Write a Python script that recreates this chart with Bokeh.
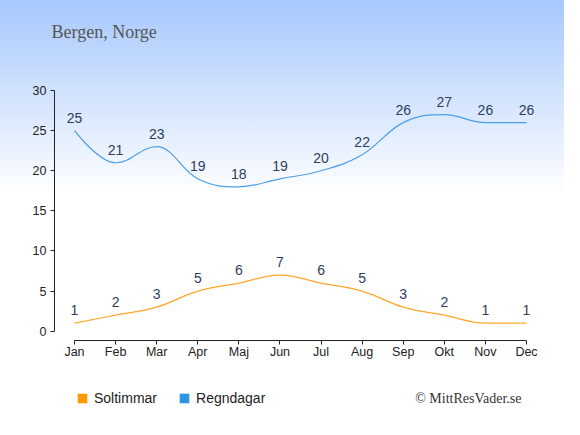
from bokeh.plotting import figure
from bokeh.models import Range1d, FixedTicker, Label, Legend, LegendItem, ColumnDataSource
from bokeh.core.properties import value
from bokeh.embed import file_html
from bokeh.resources import INLINE

# ---- data ----
months = ["Jan", "Feb", "Mar", "Apr", "Maj", "Jun", "Jul", "Aug", "Sep", "Okt", "Nov", "Dec"]
sun_hours = [1, 2, 3, 5, 6, 7, 6, 5, 3, 2, 1, 1]
rain_days = [25, 21, 23, 19, 18, 19, 20, 22, 26, 27, 26, 26]
y_ticks = [0, 5, 10, 15, 20, 25, 30]
series_names = ["Soltimmar", "Regndagar"]
title_text = "Bergen, Norge"
credit_text = "© MittResVader.se"

# ---- styles ----
SUN_LINE = "#ffa726"
RAIN_LINE = "#4b9fea"
SUN_BOX = "#ff9900"
RAIN_BOX = "#2f93e8"
LABEL_COLOR = "#2d3e5e"
AXIS_COLOR = "#222222"

xs = list(range(len(months)))
NAN = float("nan")


def spline_segments(ys, smoothing=1.5):
    """Bezier control points for a smooth line through the points (rendering only)."""
    n = len(ys)
    left = [None] * n
    right = [None] * n
    for i in range(n):
        x, y = xs[i], ys[i]
        if 0 < i < n - 1:
            d = smoothing + 1
            lx = (smoothing * x + xs[i - 1]) / d
            ly = (smoothing * y + ys[i - 1]) / d
            rx = (smoothing * x + xs[i + 1]) / d
            ry = (smoothing * y + ys[i + 1]) / d
            corr = (ry - ly) * (rx - x) / (rx - lx) + y - ry
            ly += corr
            ry += corr
            if ly > ys[i - 1] and ly > y:
                ly = max(ys[i - 1], y); ry = 2 * y - ly
            elif ly < ys[i - 1] and ly < y:
                ly = min(ys[i - 1], y); ry = 2 * y - ly
            if ry > ys[i + 1] and ry > y:
                ry = max(ys[i + 1], y); ly = 2 * y - ry
            elif ry < ys[i + 1] and ry < y:
                ry = min(ys[i + 1], y); ly = 2 * y - ry
            left[i] = (lx, ly)
            right[i] = (rx, ry)
        else:
            left[i] = right[i] = (x, y)
    seg = dict(x0=[], y0=[], x1=[], y1=[], cx0=[], cy0=[], cx1=[], cy1=[])
    for i in range(n - 1):
        seg["x0"].append(xs[i]); seg["y0"].append(ys[i])
        seg["x1"].append(xs[i + 1]); seg["y1"].append(ys[i + 1])
        seg["cx0"].append(right[i][0]); seg["cy0"].append(right[i][1])
        seg["cx1"].append(left[i + 1][0]); seg["cy1"].append(left[i + 1][1])
    return seg


p = figure(
    frame_width=564, frame_height=419,
    min_border_left=0, min_border_right=0, min_border_top=0, min_border_bottom=0,
    x_range=Range1d(-1.801, 11.925), y_range=Range1d(-11.01, 41.23),
    output_backend="svg", toolbar_location=None,
)
p.styles = {"background": "linear-gradient(to bottom, #a6c8fd 0px, #ffffff 195px)"}
p.background_fill_alpha = 0
p.border_fill_alpha = 0
p.outline_line_color = None
p.xgrid.visible = False
p.ygrid.visible = False

for ax in (p.xaxis[0], p.yaxis[0]):
    ax.axis_line_color = AXIS_COLOR
    ax.major_tick_line_color = AXIS_COLOR
    ax.major_tick_out = 4
    ax.major_tick_in = 0
    ax.minor_tick_line_color = None
    ax.major_label_text_font = "Liberation Sans"
    ax.major_label_text_font_size = "12.5px"
    ax.major_label_text_color = "#222222"

p.xaxis.fixed_location = -1.16
p.xaxis.bounds = (0, len(months) - 1)
p.xaxis.ticker = FixedTicker(ticks=xs)
p.xaxis.major_label_overrides = {i: m for i, m in enumerate(months)}
p.xaxis.major_label_standoff = 1
p.yaxis.fixed_location = -0.487
p.yaxis.bounds = (y_ticks[0], y_ticks[-1])
p.yaxis.ticker = FixedTicker(ticks=y_ticks)
p.yaxis.major_label_standoff = 4

# smooth lines
p.bezier(source=spline_segments(rain_days), x0="x0", y0="y0", x1="x1", y1="y1",
         cx0="cx0", cy0="cy0", cx1="cx1", cy1="cy1", line_color=RAIN_LINE, line_width=1.2)
p.bezier(source=spline_segments(sun_hours), x0="x0", y0="y0", x1="x1", y1="y1",
         cx0="cx0", cy0="cy0", cx1="cx1", cy1="cy1", line_color=SUN_LINE, line_width=1.2)

# value labels
for ys in (sun_hours, rain_days):
    p.text(x=xs, y=ys, text=[str(v) for v in ys], text_align="center", text_baseline="middle",
           y_offset=-13, text_font=value("Liberation Sans"), text_font_size="14px",
           text_color=LABEL_COLOR)

# legend swatches (renderers with no drawable geometry, only used by the legend)
empty = dict(left=[NAN], right=[NAN], top=[NAN], bottom=[NAN])
q_sun = p.quad(source=ColumnDataSource(empty), left="left", right="right", top="top",
               bottom="bottom", fill_color=SUN_BOX, line_color=None)
q_rain = p.quad(source=ColumnDataSource(dict(empty)), left="left", right="right", top="top",
                bottom="bottom", fill_color=RAIN_BOX, line_color=None)
legend = Legend(
    items=[LegendItem(label=series_names[0], renderers=[q_sun]),
           LegendItem(label=series_names[1], renderers=[q_rain])],
    location=(76, 13), orientation="horizontal",
    glyph_width=12, glyph_height=12, label_height=10, label_standoff=6, spacing=21,
    padding=0, margin=0, border_line_color=None, background_fill_alpha=0,
    label_text_font="Liberation Sans", label_text_font_size="14px", label_text_color="#222222",
)
p.add_layout(legend)

p.add_layout(Label(x=-0.56, y=37.33, text=title_text, text_font="Liberation Serif",
                   text_font_size="18px", text_color="#555555", text_align="left",
                   text_baseline="alphabetic"))
p.add_layout(Label(x=10.879, y=-8.35, text=credit_text, text_font="Liberation Serif",
                   text_font_size="14px", text_color="#333333", text_align="right",
                   text_baseline="alphabetic"))

open("out.html", "w").write(file_html(p, INLINE))
